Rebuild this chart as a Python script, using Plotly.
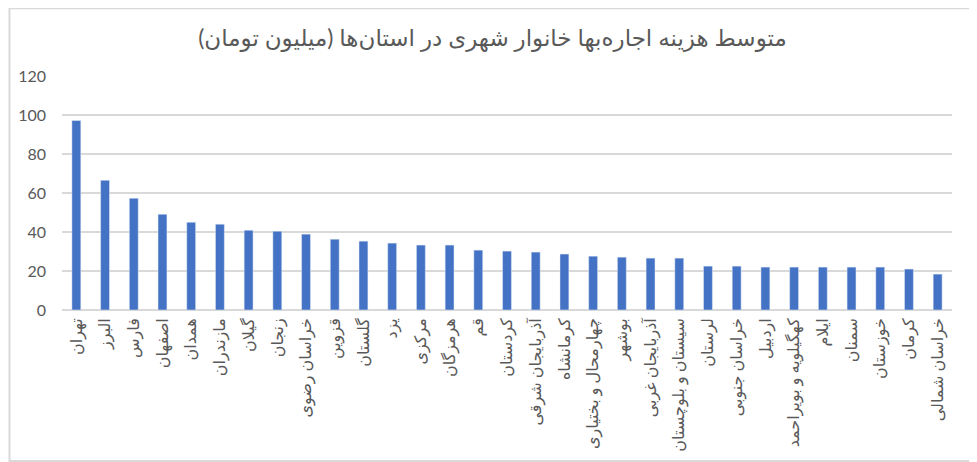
import plotly.graph_objects as go

provinces = ['تهران', 'البرز', 'فارس', 'اصفهان', 'همدان', 'مازندران', 'گیلان', 'زنجان',
             'خراسان رضوی', 'قزوین', 'گلستان', 'یزد', 'مرکزی', 'هرمزگان', 'قم', 'کردستان',
             'آذربایجان شرقی', 'کرمانشاه', 'چهارمحال و بختیاری', 'بوشهر', 'آذربایجان غربی',
             'سیستان و بلوچستان', 'لرستان', 'خراسان جنوبی', 'اردبیل', 'کهگیلویه و بویراحمد',
             'ایلام', 'سمنان', 'خوزستان', 'کرمان', 'خراسان شمالی']
rent = [97.2, 66.5, 57.3, 49.1, 45.0, 44.0, 40.9, 40.4, 38.9, 36.3, 35.3, 34.3, 33.3, 33.3,
        30.7, 30.2, 29.7, 28.7, 27.6, 27.1, 26.6, 26.6, 22.5, 22.5, 22.0, 22.0, 22.0, 22.0,
        22.0, 21.0, 18.4]
y_ticks = [0, 20, 40, 60, 80, 100, 120]

title = 'متوسط هزینه اجاره‌بها خانوار شهری در استان‌ها (میلیون تومان)'

fig = go.Figure(go.Bar(x=provinces, y=rent, marker_color='#4472C4'))

# page body adds 8px around the figure, so size/margins are reduced by that
fig.update_layout(
    width=969, height=454,
    margin=dict(l=54, r=25, t=68, b=152),
    paper_bgcolor='white', plot_bgcolor='white',
    font=dict(family='Lato, DejaVu Sans, sans-serif', color='#595959', size=16),
    title=dict(text=title, x=0.5, xanchor='center', y=0.935, yanchor='middle',
               font=dict(size=23, color='#595959')),
    bargap=0.69,
    showlegend=False,
)
fig.update_xaxes(tickangle=-90, showline=False, ticks='', tickfont=dict(size=16),
                 ticklabelstandoff=4, automargin=False)
fig.update_yaxes(range=[0, 120], tickvals=y_ticks, gridcolor='#d9d9d9', gridwidth=2,
                 zeroline=True, zerolinecolor='#d9d9d9', zerolinewidth=2,
                 ticks='', ticklabelstandoff=15, automargin=False)

# light gray chart border like the original
fig.add_shape(type='rect', xref='paper', yref='paper',
              x0=-0.059, x1=1.027, y0=-0.645, y1=1.289,
              line=dict(color='#d9d9d9', width=2), fillcolor='rgba(0,0,0,0)', layer='below')

fig.write_html('out.html')
